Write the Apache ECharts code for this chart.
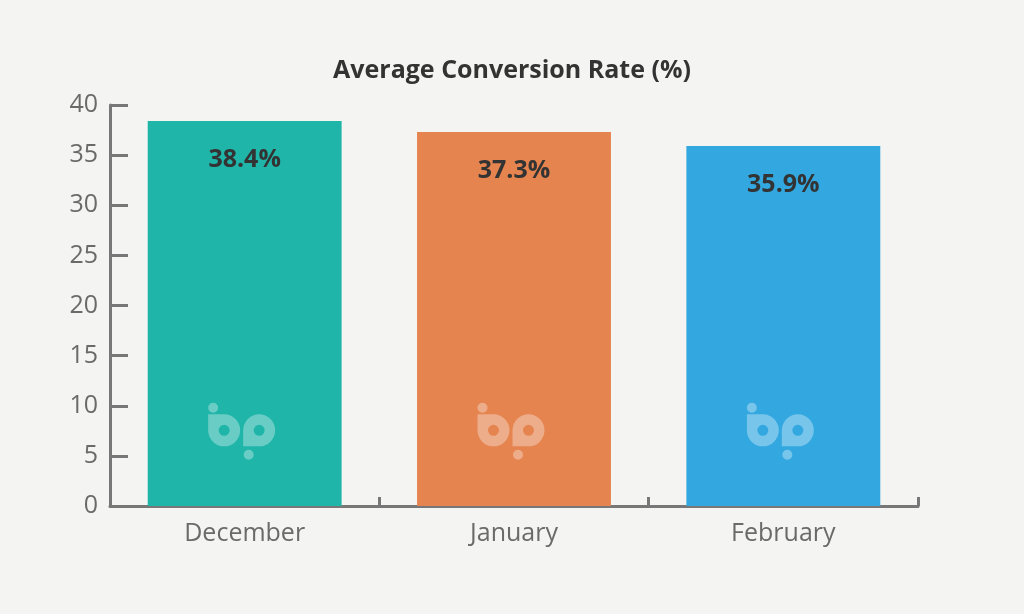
<!DOCTYPE html>
<html>
<head>
<meta charset="utf-8">
<script src="https://cdn.jsdelivr.net/npm/echarts@6/dist/echarts.min.js"></script>
<style>
html,body{margin:0;padding:0;background:#f4f4f2;}
#c{width:1024px;height:614px;}
</style>
</head>
<body>
<div id="c"></div>
<script>
const categories = ['December', 'January', 'February'];
const rates = [38.4, 37.3, 35.9];
const barColors = ['#1fb5a9', '#e5844f', '#33a8e0'];
const yTicks = { min: 0, max: 40, interval: 5 };
const titleText = 'Average Conversion Rate (%)';

const LOGO_Y = 7.45;
const logoSvg =
  '<svg xmlns="http://www.w3.org/2000/svg" width="68" height="58" viewBox="0 0 68 58">' +
  '<path fill="#ffffff" fill-opacity="0.42" fill-rule="evenodd" d="' +
  'M0.5 12 L16.5 12 A16 16 0 0 1 32.5 28 A16 16 0 0 1 16.5 44 A16 16 0 0 1 0.5 28 Z ' +
  'M22 28 A5.5 5.5 0 0 0 11 28 A5.5 5.5 0 0 0 22 28 Z ' +
  'M35.5 28 A16 16 0 0 1 51.5 12 A16 16 0 0 1 67.5 28 A16 16 0 0 1 51.5 44 L35.5 44 Z ' +
  'M57 28 A5.5 5.5 0 0 0 46 28 A5.5 5.5 0 0 0 57 28 Z ' +
  'M10.5 5.5 A5 5 0 1 1 0.5 5.5 A5 5 0 1 1 10.5 5.5 Z ' +
  'M46 52.5 A5 5 0 1 1 36 52.5 A5 5 0 1 1 46 52.5 Z"/></svg>';
const logoSymbol = 'image://data:image/svg+xml;charset=utf-8,' + encodeURIComponent(logoSvg);

const chart = echarts.init(document.getElementById('c'), null, {renderer: 'canvas'});
const axisColor = '#777777';
chart.setOption({
  backgroundColor: '#f4f4f2',
  animation: false,
  title: {
    text: titleText,
    left: 'center',
    top: 53,
    textStyle: { fontFamily: 'Open Sans', fontWeight: 'bold', fontSize: 25, color: '#333333' }
  },
  grid: { left: 110, right: 106, top: 105, bottom: 108 },
  xAxis: {
    type: 'category',
    data: categories,
    axisLine: { show: true, lineStyle: { color: axisColor, width: 3 } },
    axisTick: { show: true, inside: true, length: 9, alignWithLabel: false, lineStyle: { color: axisColor, width: 3 } },
    axisLabel: { fontFamily: 'Open Sans', fontSize: 25, color: '#6a6a6a', margin: 15 },
    splitLine: { show: false }
  },
  yAxis: {
    type: 'value',
    min: yTicks.min, max: yTicks.max, interval: yTicks.interval,
    axisLine: { show: true, lineStyle: { color: axisColor, width: 3 } },
    axisTick: { show: true, inside: true, length: 18, lineStyle: { color: axisColor, width: 3 } },
    axisLabel: { fontFamily: 'Open Sans', fontSize: 25, color: '#6a6a6a', margin: 12 },
    splitLine: { show: false }
  },
  series: [
    {
      type: 'bar',
      barWidth: '72%',
      data: rates.map((v, i) => ({ value: v, itemStyle: { color: barColors[i] } })),
      label: {
        show: true,
        position: 'insideTop',
        distance: 26,
        formatter: p => p.value.toFixed(1) + '%',
        fontFamily: 'Open Sans', fontWeight: 'bold', fontSize: 25, color: '#333333'
      },
      z: 2
    },
    {
      type: 'scatter',
      data: categories.map(c => [c, LOGO_Y]),
      symbol: logoSymbol,
      symbolSize: [68, 58],
      symbolOffset: [-3, 0],
      silent: true,
      z: 3
    }
  ]
});
</script>
</body>
</html>
